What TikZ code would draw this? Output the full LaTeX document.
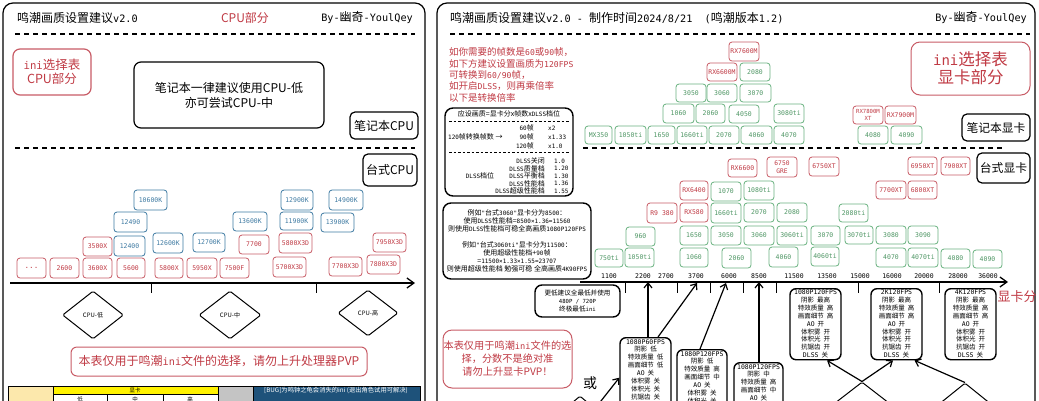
\documentclass[tikz,border=0pt]{standalone}
\usepackage{fontspec}
\setmainfont{Noto Sans CJK SC}
\setmonofont{DejaVu Sans Mono}[Scale=0.85]
\usetikzlibrary{arrows.meta,shapes.geometric}
\definecolor{redt}{RGB}{192,58,68}
\definecolor{redb}{RGB}{200,92,102}
\definecolor{bluet}{RGB}{62,122,162}
\definecolor{greent}{RGB}{78,150,100}
\definecolor{greenb}{RGB}{105,178,128}
\definecolor{hdrblue}{RGB}{30,82,122}
\definecolor{beige}{RGB}{252,232,172}
\definecolor{grayc}{RGB}{196,196,196}
\newcommand\mo[1]{{\ttfamily #1}}
\newcommand\mt[1]{{\fontsize{7.6}{7.9}\ttfamily #1}}
\newcommand\gp{\hspace{3pt}}
\newcommand\bx[7]{\node[#1,minimum width={(#5)-(#3)},minimum height={(#6)-(#4)}] (#2) at ({((#3)+(#5))/2},{((#4)+(#6))/2}) {#7};}
\tikzset{
  sb/.style={draw, rounded corners=3pt, line width=0.8pt, inner sep=0pt, font=\fontsize{7.6}{7}\ttfamily, align=center},
  rb/.style={sb, draw=redb, text=redt},
  bb/.style={sb, draw=bluet, text=bluet},
  gb/.style={sb, draw=greenb, text=greent},
  kb/.style={draw, rounded corners=7pt, line width=1.2pt, inner sep=0pt, align=center},
  dsh/.style={line width=1.3pt, dash pattern=on 5pt off 4pt},
  thindsh/.style={line width=0.6pt, dash pattern=on 2.5pt off 2pt},
  dia/.style={draw, diamond, line width=1pt, inner sep=0pt, font=\fontsize{6}{7}\selectfont, rounded corners=1.5pt},
  arr/.style={line width=1.2pt, -{Straight Barb[length=5pt,width=8pt]}},
  axarr/.style={line width=1.3pt, -{Straight Barb[length=7pt,width=10pt]}},
  sett/.style={draw, rounded corners=6pt, line width=1.4pt, inner sep=0pt},
  settxt/.style={inner sep=0pt, align=center, font=\fontsize{6.5}{7.9}\selectfont, anchor=north},
  tlab/.style={inner sep=0pt, font=\fontsize{7.6}{8}\ttfamily},
  tiny/.style={inner sep=0pt, font=\fontsize{7}{8}\selectfont},
}
\begin{document}
\begin{tikzpicture}[x=1pt,y=-1pt]
\useasboundingbox (0,0) rectangle (1039,400);
\fill[white] (0,0) rectangle (1039,400);

% ================= LEFT PANEL =================
\draw[line width=1.2pt, rounded corners=10pt] (3,3) rectangle (425,430);
\node[anchor=west, inner sep=0pt, font=\fontsize{12}{14}\selectfont] (ltitle) at (17,18) {鸣潮画质设置建议\mo{v2.0}};
\node[inner sep=0pt, text=redt, font=\fontsize{12}{14}\selectfont] (lcpu) at (245,18) {CPU部分};
\node[anchor=east, inner sep=0pt, font=\fontsize{12}{14}\selectfont] (lby) at (413,18) {\mo{By-}幽奇\mo{-YoulQey}};
\draw[dsh] (15,34) -- (415,34);

\bx{kb, draw=redb, text=redt, font=\fontsize{12.5}{14}\selectfont}{lini}{13}{49}{91}{95}{\mo{ini}选择表\\CPU部分}
\bx{kb, font=\fontsize{12}{15}\selectfont}{lnote}{134}{62}{324}{128}{笔记本一律建议使用CPU-低\\亦可尝试CPU-中}
\bx{kb, rounded corners=5pt, font=\fontsize{12}{14}\selectfont}{lnb}{350}{112}{418}{139}{笔记本CPU}
\draw[dsh] (15,148) -- (415,148);
\bx{kb, rounded corners=5pt, font=\fontsize{12}{14}\selectfont}{ldt}{363}{154}{417}{186}{台式CPU}

\bx{bb}{c1}{134}{190}{167}{210}{10600K}
\bx{bb}{c2}{281}{190}{313}{210}{12900K}
\bx{bb}{c3}{329}{190}{363}{210}{14900K}
\bx{bb}{c4}{114}{212}{147}{232}{12490}
\bx{bb}{c5}{233}{212}{267}{231}{13600K}
\bx{bb}{c6}{280}{212}{313}{230}{11900K}
\bx{bb}{c7}{321}{213}{354}{232}{13900K}
\bx{rb}{c8}{83}{237}{112}{256}{3500X}
\bx{bb}{c9}{114}{236}{145}{256}{12400}
\bx{bb}{c10}{153}{233}{183}{253}{12600K}
\bx{bb}{c11}{193}{233}{225}{252}{12700K}
\bx{rb}{c12}{239}{235}{269}{254}{7700}
\bx{rb}{c13}{279}{233}{312}{253}{5800X3D}
\bx{rb}{c14}{373}{233}{406}{252}{7950X3D}
\bx{rb, font=\fontsize{9}{9}\ttfamily}{c15}{17}{258}{46}{278}{...}
\bx{rb}{c16}{50}{258}{79}{278}{2600}
\bx{rb}{c17}{83}{258}{112}{278}{3600X}
\bx{rb}{c18}{117}{258}{145}{278}{5600}
\bx{rb}{c19}{155}{258}{183}{278}{5800X}
\bx{rb}{c20}{187}{258}{217}{278}{5950X}
\bx{rb}{c21}{220}{258}{249}{278}{7500F}
\bx{rb}{c22}{273}{257}{306}{277}{5700X3D}
\bx{rb}{c23}{329}{257}{362}{276}{7700X3D}
\bx{rb}{c24}{367}{255}{400}{274}{7800X3D}

\coordinate (la0) at (10,283);
\coordinate (la1) at (415,283);
\draw[axarr] (la0) -- (la1);
\draw[line width=1pt] (151,283) -- (151,293);
\draw[line width=1pt] (316,283) -- (316,293);

\node[dia, minimum width=61pt, minimum height=48pt] (dlo) at (93,315) {CPU-低};
\node[dia, minimum width=62pt, minimum height=48pt] (dmi) at (230,315) {CPU-中};
\node[dia, minimum width=60pt, minimum height=46pt] (dhi) at (368,313) {CPU-高};

\bx{kb, draw=redb, text=redt, rounded corners=6pt, line width=1pt, font=\fontsize{12}{14}\selectfont}{lwarn}{71}{347}{367}{376}{本表仅用于鸣潮\mo{ini}文件的选择，请勿上升处理器PVP}

% bottom table (cut off)
\fill[beige] (8,386) rectangle (53,410);
\fill[yellow] (53,386) rectangle (218,394);
\fill[grayc] (218,386) rectangle (253,410);
\fill[hdrblue] (253,386) rectangle (420,410);
\draw[line width=0.4pt] (8,386) rectangle (420,410);
\draw[line width=0.4pt] (53,386) -- (53,410) (218,386) -- (218,410) (253,386) -- (253,410);
\draw[line width=0.4pt] (53,394) -- (218,394) (107,394) -- (107,410) (163,394) -- (163,410);
\node[inner sep=0pt, font=\fontsize{5.5}{6}\selectfont] (tgpu) at (135,390) {显卡};
\node[inner sep=0pt, text=white, font=\fontsize{6.3}{7}\selectfont] (tbug) at (336,390) {[BUG]为鸣钟之龟会消失的ini (退出角色试用可解决)};
\node[inner sep=0pt, font=\fontsize{5.5}{6}\selectfont] (tlo) at (80,399) {低};
\node[inner sep=0pt, font=\fontsize{5.5}{6}\selectfont] (tmi) at (135,399) {中};
\node[inner sep=0pt, font=\fontsize{5.5}{6}\selectfont] (thi) at (190,399) {高};

% ================= RIGHT PANEL =================
\draw[line width=1.2pt, rounded corners=10pt] (437,3) rectangle (1035,430);
\node[anchor=west, inner sep=0pt, font=\fontsize{12}{14}\selectfont] (rtitle) at (450,18) {鸣潮画质设置建议\mo{v2.0 - }制作时间\mo{2024/8/21~~(}鸣潮版本\mo{1.2)}};
\node[anchor=east, inner sep=0pt, font=\fontsize{12}{14}\selectfont] (rby) at (1027,18) {\mo{By-}幽奇\mo{-YoulQey}};
\draw[dsh] (450,34) -- (1030,34);
\draw[dsh] (583,148) -- (1003,148);

\node[anchor=north west, inner sep=0pt, align=left, text=redt, font=\fontsize{9.5}{11.4}\selectfont] (rnote) at (449,47.5)
 {如你需要的帧数是\mo{60}或\mo{90}帧，\\如下方建议设置画质为\mo{120FPS}\\可转换到\mo{60/90}帧，\\如开启\mo{DLSS}，则再乘倍率\\以下是转换倍率};

\bx{kb, rounded corners=9pt, draw=redb, text=redt, line width=1pt, font=\fontsize{16.5}{18}\selectfont}{rini}{911}{42}{1030}{95}{\mo{ini}选择表\\显卡部分}
\bx{kb, rounded corners=5pt, font=\fontsize{11.8}{14}\selectfont}{rnb}{962}{114}{1030}{141}{笔记本显卡}
\bx{kb, rounded corners=5pt, font=\fontsize{11.8}{14}\selectfont}{rdt}{977}{153}{1030}{183}{台式显卡}

% formula box
\bx{kb, rounded corners=8pt, line width=1.4pt}{fbox}{445}{108}{573}{196}{}
\node[tiny] (f1) at (509,114) {应设画质=显卡分x帧数x\mo{DLSS}档位};
\draw[thindsh] (449,121) -- (569,121);
\node[tiny, anchor=west] (f2) at (448,137) {\mo{120}帧转换帧数 →};
\node[tiny, anchor=east] (f3) at (534,128) {\mo{60}帧};
\node[tiny, anchor=east] (f4) at (534,137) {\mo{90}帧};
\node[tiny, anchor=east] (f5) at (534,146) {\mo{120}帧};
\node[tiny, anchor=west] (f6) at (548,128) {\mo{x2}};
\node[tiny, anchor=west] (f7) at (548,137) {\mo{x1.33}};
\node[tiny, anchor=west] (f8) at (548,146) {\mo{x1.0}};
\draw[thindsh] (449,152) -- (569,152);
\node[tiny] (f9) at (480,176) {\mo{DLSS}档位};
\node[tiny, anchor=east] (f10) at (545,161) {\mo{DLSS}关闭};
\node[tiny, anchor=east] (f11) at (545,168.5) {\mo{DLSS}质量档};
\node[tiny, anchor=east] (f12) at (545,176) {\mo{DLSS}平衡档};
\node[tiny, anchor=east] (f13) at (545,183.5) {\mo{DLSS}性能档};
\node[tiny, anchor=east] (f14) at (545,191) {\mo{DLSS}超级性能档};
\node[tiny, anchor=west] (f15) at (554,161) {\mo{1.0}};
\node[tiny, anchor=west] (f16) at (554,168.5) {\mo{1.20}};
\node[tiny, anchor=west] (f17) at (554,176) {\mo{1.30}};
\node[tiny, anchor=west] (f18) at (554,183.5) {\mo{1.36}};
\node[tiny, anchor=west] (f19) at (554,191) {\mo{1.55}};

% example box
\bx{kb, rounded corners=8pt, line width=1.4pt, font=\fontsize{7}{8}\selectfont}{ebox}{443}{203}{591}{279}
 {例如\mo{"}台式\mo{3060"}显卡分为\mo{8500}：\\使用\mo{DLSS}性能档=\mo{8500×1.36=11560}\\则使用\mo{DLSS}性能档可稳全高画质\mo{1080P120FPS}\\[8pt]例如\mo{"}台式\mo{3060ti"}显卡分为\mo{11500}：\\使用超级性能档+\mo{90}帧\\=\mo{11500×1.33×1.55=23707}\\则使用超级性能档 勉强可稳 全高画质\mo{4K90FPS}}
\bx{kb, rounded corners=7pt, line width=1.4pt, font=\fontsize{6.6}{8}\selectfont}{lowbox}{535}{285}{620}{317}{更低建议全最低并使用\\\mo{480P / 720P}\\终极最低\mo{ini}}
\bx{kb, rounded corners=9pt, draw=redb, text=redt, line width=1pt, font=\fontsize{10.2}{13}\selectfont}{rwarn}{443}{330}{572}{388}{本表仅用于鸣潮\mo{ini}文件的选\\择，分数不是绝对准\\请勿上升显卡PVP！}
\node[inner sep=0pt, font=\fontsize{14}{16}\selectfont] (huo) at (590,383) {或};

% laptop GPUs
\bx{rb}{n1}{729}{42}{759}{61}{RX7600M}
\bx{rb}{n2}{707}{63}{737}{81}{RX6600M}
\bx{gb}{n3}{740}{63}{770}{81}{2080}
\bx{gb}{n4}{676}{84}{706}{102}{3050}
\bx{gb}{n5}{707}{84}{737}{102}{3060}
\bx{gb}{n6}{740}{84}{771}{102}{3070}
\bx{gb}{n7}{663}{104}{694}{123}{1060}
\bx{gb}{n8}{696}{104}{725}{123}{2060}
\bx{gb}{n9}{729}{105}{759}{123}{4050}
\bx{gb}{n10}{774}{104}{804}{123}{3080ti}
\bx{gb}{n11}{585}{126}{612}{144}{MX350}
\bx{gb}{n12}{615}{126}{646}{144}{1050ti}
\bx{gb}{n13}{648}{126}{675}{144}{1650}
\bx{gb}{n14}{677}{126}{707}{144}{1660ti}
\bx{gb}{n15}{709}{126}{739}{144}{2070}
\bx{gb}{n16}{741}{126}{772}{144}{4060}
\bx{gb}{n17}{774}{126}{804}{144}{4070}
\bx{rb, font=\fontsize{6.6}{6.8}\ttfamily}{n18}{853}{106}{883}{124}{RX7800M\\XT}
\bx{rb}{n19}{885}{106}{916}{124}{RX7900M}
\bx{gb}{n20}{858}{126}{888}{144}{4080}
\bx{gb}{n21}{891}{126}{922}{144}{4090}

% desktop GPUs
\bx{rb}{d1}{908}{157}{937}{175}{6950XT}
\bx{rb}{d2}{941}{157}{970}{175}{7900XT}
\bx{rb}{d3}{876}{181}{906}{199}{7700XT}
\bx{rb}{d4}{908}{181}{937}{199}{6800XT}
\bx{rb}{d5}{728}{159}{757}{177}{RX6600}
\bx{rb, font=\fontsize{7.4}{8.5}\ttfamily}{d6}{767}{157}{797}{177}{6750\\GRE}
\bx{rb}{d7}{809}{157}{839}{176}{6750XT}
\bx{rb}{d8}{680}{181}{708}{200}{RX6400}
\bx{gb}{d9}{711}{182}{741}{201}{1070}
\bx{gb}{d10}{744}{181}{774}{200}{1080ti}
\bx{rb}{d11}{647}{203}{677}{223}{R9 380}
\bx{rb}{d12}{680}{203}{708}{222}{RX580}
\bx{gb}{d13}{711}{203}{741}{223}{1660ti}
\bx{gb}{d14}{744}{203}{774}{222}{2070}
\bx{gb}{d15}{777}{203}{807}{222}{2080}
\bx{gb}{d16}{839}{204}{868}{222}{2080ti}
\bx{gb}{d17}{626}{227}{655}{246}{960}
\bx{gb}{d18}{680}{226}{708}{245}{1650}
\bx{gb}{d19}{711}{226}{741}{245}{3050}
\bx{gb}{d20}{744}{226}{774}{245}{3060}
\bx{gb}{d21}{777}{226}{807}{245}{3060ti}
\bx{gb}{d22}{811}{226}{840}{245}{3070}
\bx{gb}{d23}{845}{226}{873}{244}{3070ti}
\bx{gb}{d24}{876}{226}{906}{244}{3080}
\bx{gb}{d25}{908}{226}{938}{244}{3090}
\bx{gb}{d26}{595}{249}{623}{267}{750ti}
\bx{gb}{d27}{625}{248}{654}{267}{1050ti}
\bx{gb}{d28}{680}{248}{708}{267}{1060}
\bx{gb}{d29}{722}{248}{751}{268}{2060}
\bx{gb}{d30}{769}{247}{798}{267}{4060}
\bx{gb}{d31}{811}{247}{839}{266}{4060ti}
\bx{gb}{d32}{876}{248}{906}{267}{4070}
\bx{gb}{d33}{908}{248}{938}{267}{4070ti}
\bx{gb}{d34}{941}{249}{970}{268}{4080}
\bx{gb}{d35}{973}{250}{1002}{268}{4090}

% GPU axis
\coordinate (ra0) at (580,282);
\coordinate (ra1) at (1008,282);
\draw[axarr] (ra0) -- (ra1);
\foreach \v/\x [count=\i] in {1100/609,2200/643,2700/666,3700/696,6000/729,8500/759,11500/794,13500/827,15000/860,16000/892,20000/924,28000/958,36000/988}
  \node[tlab] (tl\i) at (\x,276) {\v};
\foreach \x in {625,677,710,743,776,858,939}
  \draw[line width=1pt] (\x,282) -- (\x,293);
\node[inner sep=0pt, text=redt, font=\fontsize{13}{15}\selectfont] (gscore) at (1017,297) {显卡分};
\coordinate (g2200) at (648,282);
\coordinate (g3700) at (697,283);
\coordinate (g6000) at (726,283);
\coordinate (g8500) at (759,282);

% setting boxes
\node[sett, minimum width=51pt, minimum height=80pt, anchor=north] (sA) at (645.5,337) {};
\node[settxt] (sAt) at ([yshift=-2pt]sA.north) {\mt{1080P60FPS}\\阴影\gp 低\\特效质量\gp 低\\画面细节\gp 低\\\mt{AO}\gp 关\\体积雾\gp 关\\体积光\gp 关\\抗锯齿\gp 关};
\node[sett, minimum width=50pt, minimum height=80pt, anchor=north] (sB) at (702,349) {};
\node[settxt] (sBt) at ([yshift=-2pt]sB.north) {\mt{1080P120FPS}\\阴影\gp 低\\特效质量\gp 高\\画面细节\gp 中\\\mt{AO}\gp 关\\体积雾\gp 关\\体积光\gp 关};
\node[sett, minimum width=49pt, minimum height=80pt, anchor=north] (sC) at (758.5,362) {};
\node[settxt] (sCt) at ([yshift=-2pt]sC.north) {\mt{1080P120FPS}\\阴影\gp 中\\特效质量\gp 高\\画面细节\gp 中\\\mt{AO}\gp 关};
\node[sett, minimum width=51pt, minimum height=71pt, anchor=north] (sD) at (815.5,288) {};
\node[settxt] (sDt) at ([yshift=-1.5pt]sD.north) {\mt{1080P120FPS}\\阴影\gp 最高\\特效质量\gp 高\\画面细节\gp 高\\\mt{AO}\gp 开\\体积雾\gp 开\\体积光\gp 开\\抗锯齿\gp 开\\\mt{DLSS}\gp 关};
\node[sett, minimum width=51pt, minimum height=71pt, anchor=north] (sE) at (896.5,288) {};
\node[settxt] (sEt) at ([yshift=-1.5pt]sE.north) {\mt{2K120FPS}\\阴影\gp 最高\\特效质量\gp 高\\画面细节\gp 高\\\mt{AO}\gp 开\\体积雾\gp 开\\体积光\gp 开\\抗锯齿\gp 开\\\mt{DLSS}\gp 关};
\node[sett, minimum width=51pt, minimum height=71pt, anchor=north] (sF) at (970.5,288) {};
\node[settxt] (sFt) at ([yshift=-1.5pt]sF.north) {\mt{4K120FPS}\\阴影\gp 最高\\特效质量\gp 高\\画面细节\gp 高\\\mt{AO}\gp 开\\体积雾\gp 开\\体积光\gp 开\\抗锯齿\gp 开\\\mt{DLSS}\gp 关};

% GPU diamonds (cut off at the bottom)
\node[dia, minimum width=60pt, minimum height=50pt] (glo) at (580,421) {};
\node[dia, minimum width=62pt, minimum height=48pt] (gmi) at (862,406) {显卡-中};
\node[dia, minimum width=62pt, minimum height=50pt] (ghi) at (965,408) {};

% arrows
\draw[arr] (sA.north -| g2200) -- (g2200);
\draw[arr] ([xshift=12.5pt]sA.north) -- (g3700);
\draw[arr] ([xshift=-2pt]sB.north) -- (g6000);
\draw[arr] (sC.north -| g8500) -- (g8500);
\draw[arr] (gmi.north) -- ([xshift=11.5pt]sD.south);
\draw[arr] (gmi.north) -- ([xshift=-3.5pt]sE.south);
\draw[arr] (ghi.north) -- ([xshift=18pt]sE.south);
\draw[arr] (glo.north east) -- (sA.west);
\end{tikzpicture}
\end{document}
